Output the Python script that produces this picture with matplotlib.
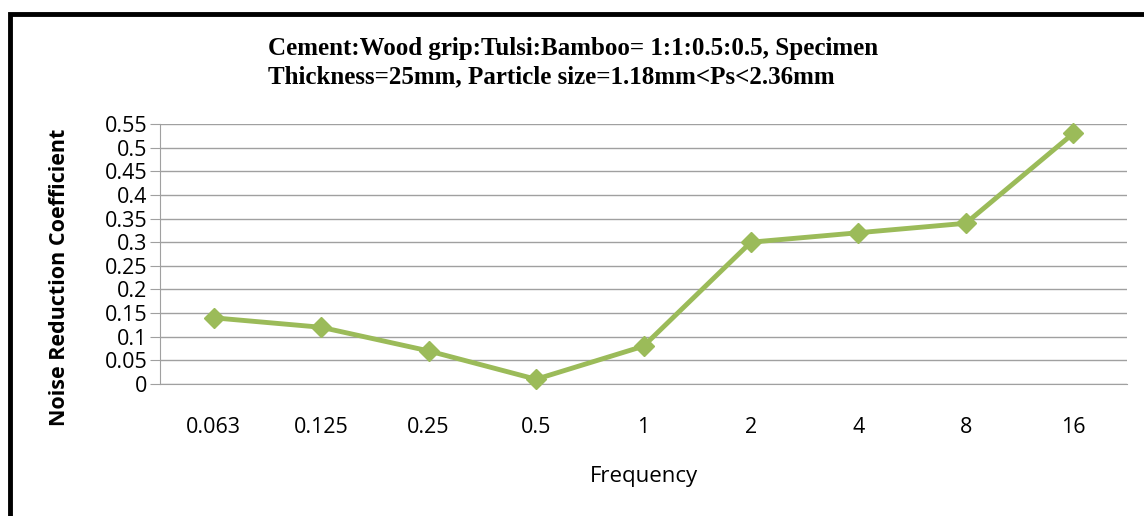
import matplotlib.pyplot as plt
from matplotlib.patches import Rectangle

# ==========================[Data]=============================
freq_labels = ['0.063', '0.125', '0.25', '0.5', '1', '2', '4', '8', '16']
nrc = [0.14, 0.12, 0.07, 0.01, 0.08, 0.30, 0.32, 0.34, 0.53]
y_ticks = [0, 0.05, 0.1, 0.15, 0.2, 0.25, 0.3, 0.35, 0.4, 0.45, 0.5, 0.55]
y_tick_labels = ['0', '0.05', '0.1', '0.15', '0.2', '0.25', '0.3', '0.35',
                 '0.4', '0.45', '0.5', '0.55']

title = ('Cement:Wood grip:Tulsi:Bamboo= 1:1:0.5:0.5, Specimen\n'
         'Thickness=25mm, Particle size=1.18mm<Ps<2.36mm')

W, H = 1144, 516
fig = plt.figure(figsize=(W / 100, H / 100), dpi=100)

# outer black frame (only top and left visible in the reference)
fig.patches.append(Rectangle((9.5 / W, -0.1), 1.2, (H - 13.5) / H + 0.1,
                             transform=fig.transFigure, fill=False,
                             edgecolor='black', linewidth=3.5))

ax = fig.add_axes([160 / W, 1 - 384 / H, (1127 - 160) / W, (384 - 124) / H])

x = range(len(nrc))
ax.plot(x, nrc, color='#9BBB59', linewidth=3.5, marker='D', markersize=10,
        clip_on=False, zorder=3)

ax.set_xlim(-0.5, len(nrc) - 0.5)
ax.set_ylim(0, 0.55)
ax.set_yticks(y_ticks)
ax.set_yticklabels(y_tick_labels)
ax.set_xticks(list(x))
ax.set_xticklabels(freq_labels)

ax.grid(axis='y', color='#A0A0A0', linewidth=1)
ax.set_axisbelow(True)
for s in ['top', 'right']:
    ax.spines[s].set_visible(False)
ax.spines['left'].set_color('#A0A0A0')
ax.spines['bottom'].set_color('#A0A0A0')
ax.tick_params(axis='y', length=7, color='#A0A0A0', labelsize=15.5, pad=2)
ax.tick_params(axis='x', length=0, labelsize=15.5, pad=24)
for lab in ax.get_xticklabels() + ax.get_yticklabels():
    lab.set_family('Open Sans')

ax.set_xlabel('Frequency', fontsize=16, family='Open Sans', labelpad=20)
# y label sits a little below the axes centre in the reference
fig.text(60 / W, 1 - 277 / H, 'Noise Reduction Coefficient', rotation=90,
         ha='center', va='center', fontsize=15.5, family='Open Sans',
         fontweight='bold')

fig.text(268 / W, 1 - 63 / H, title, ha='left', va='center',
         multialignment='left', family='Liberation Serif', fontweight='bold',
         fontsize=18, linespacing=1.3)

plt.savefig('out.png', dpi=100)
